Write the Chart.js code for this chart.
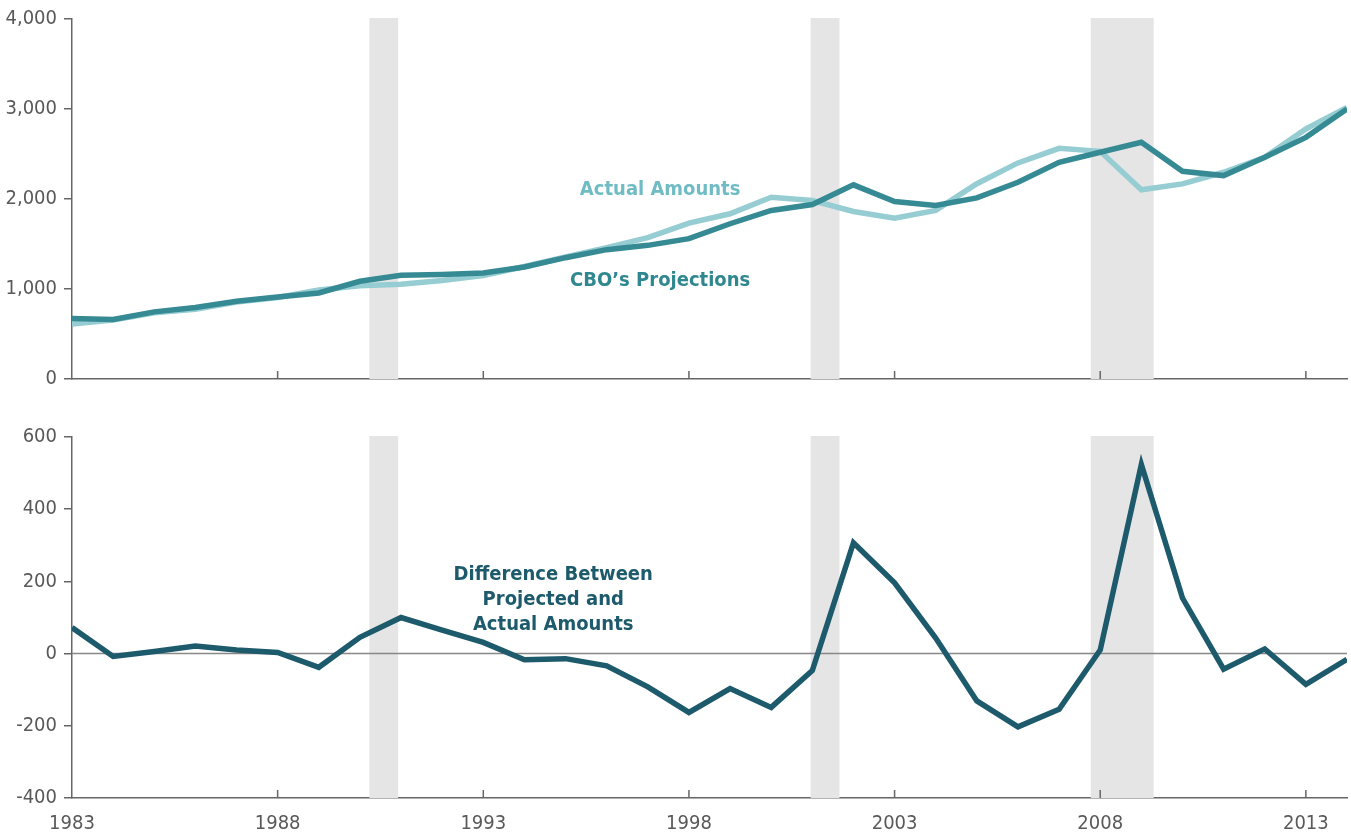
<!DOCTYPE html>
<html>
<head>
<meta charset="utf-8">
<script src="https://cdn.jsdelivr.net/npm/chart.js@4"></script>
<style>
  body { margin: 0; background: #fff; }
  canvas { display: block; }
</style>
</head>
<body>
<canvas id="levels" width="1351" height="400"></canvas>
<canvas id="diff" width="1351" height="437"></canvas>
<script>
const years = [];
for (let y = 1983; y <= 2014; y++) years.push(y);

const projected = [672, 661, 746, 794, 864, 912, 956, 1086, 1152, 1160, 1178, 1244, 1348, 1437, 1485, 1559,
  1725, 1873, 1939, 2157, 1972, 1928, 2013, 2186, 2408, 2519, 2630, 2308, 2260, 2463, 2685, 3000];
const actual = [610, 655, 735, 775, 855, 905, 990, 1035, 1053, 1095, 1150, 1250, 1355, 1460, 1570, 1732,
  1836, 2020, 1983, 1861, 1787, 1873, 2170, 2401, 2563, 2530, 2102, 2168, 2297, 2463, 2778, 3017];
const difference = [72, -8, 6, 21, 10, 3, -38, 45, 100, 65, 31, -17, -14, -34, -92, -163,
  -97, -149, -47, 307, 196, 43, -131, -203, -154, 10, 524, 154, -43, 13, -85, -16];

const recessions = [[1990.23, 1990.93], [2000.96, 2001.66], [2007.77, 2009.3]];
const xTicks = [1983, 1988, 1993, 1998, 2003, 2008, 2013];

const FONT = "'Liberation Sans Narrow', 'DejaVu Sans Condensed', 'Roboto Condensed', sans-serif";
const AXIS = '#666';
const TEXT = '#595959';

// grey recession bars + inner x tick marks
const decor = {
  id: 'decor',
  beforeDatasetsDraw(chart, args, opts) {
    const { ctx, chartArea, scales } = chart;
    ctx.save();
    ctx.fillStyle = '#e5e5e5';
    recessions.forEach(r => {
      const x1 = scales.x.getPixelForValue(r[0]);
      const x2 = scales.x.getPixelForValue(r[1]);
      ctx.fillRect(x1, chartArea.top - 1, x2 - x1, chartArea.bottom - chartArea.top + 1);
    });
    if (opts.zeroLine) {
      const y0 = scales.y.getPixelForValue(0);
      ctx.strokeStyle = '#888';
      ctx.lineWidth = 1.5;
      ctx.beginPath();
      ctx.moveTo(chartArea.left, y0);
      ctx.lineTo(chartArea.right, y0);
      ctx.stroke();
    }
    ctx.restore();
  },
  afterDraw(chart, args, opts) {
    const { ctx, chartArea, scales } = chart;
    ctx.save();
    ctx.strokeStyle = AXIS;
    ctx.lineWidth = 1.5;
    xTicks.slice(1).forEach(v => {
      const x = scales.x.getPixelForValue(v);
      ctx.beginPath();
      ctx.moveTo(x, chartArea.bottom);
      ctx.lineTo(x, chartArea.bottom - 8);
      ctx.stroke();
    });
    ctx.textAlign = 'center';
    ctx.textBaseline = 'middle';
    ctx.font = 'bold 20px ' + FONT;
    (opts.notes || []).forEach(n => {
      ctx.fillStyle = n.color;
      n.lines.forEach((t, i) => {
        ctx.fillText(t, scales.x.getPixelForValue(n.x), scales.y.getPixelForValue(n.y) + i * 25);
      });
    });
    ctx.restore();
  }
};

function yAxis(min, max, step, fmt) {
  return {
    min: min,
    max: max,
    ticks: {
      stepSize: step,
      padding: 7,
      color: TEXT,
      font: { family: FONT, size: 20 },
      callback: fmt
    },
    grid: { drawOnChartArea: false, drawTicks: true, tickLength: 8, color: AXIS, lineWidth: 1.5 },
    border: { display: true, color: AXIS, width: 1.5 },
    afterFit(scale) { scale.width = 72; }
  };
}

function xAxis(showLabels, height) {
  return {
    type: 'linear',
    min: 1983,
    max: 2014,
    afterBuildTicks(scale) { scale.ticks = xTicks.map(v => ({ value: v })); },
    ticks: {
      display: showLabels,
      padding: 14,
      maxRotation: 0,
      autoSkip: false,
      color: TEXT,
      font: { family: FONT, size: 20 },
      callback: v => String(v)
    },
    grid: { display: false, drawTicks: false },
    border: { display: true, color: AXIS, width: 1.5 },
    afterFit(scale) { scale.height = height; }
  };
}

function series(data, color) {
  return {
    data: years.map((y, i) => ({ x: y, y: data[i] })),
    borderColor: color,
    borderWidth: 5.5,
    pointRadius: 0,
    tension: 0,
    borderJoinStyle: 'miter',
    fill: false
  };
}

new Chart(document.getElementById('levels'), {
  type: 'line',
  data: {
    datasets: [
      series(projected, '#368a93'),
      series(actual, '#96cdd3')
    ]
  },
  options: {
    responsive: false,
    animation: false,
    layout: { padding: { top: 18, right: 4, left: 0, bottom: 0 } },
    plugins: {
      legend: { display: false },
      tooltip: { enabled: false },
      decor: {
        notes: [
          { x: 1997.3, y: 2100, color: '#6fbcc4', lines: ['Actual Amounts'] },
          { x: 1997.3, y: 1090, color: '#2f8790', lines: ['CBO\u2019s Projections'] }
        ]
      }
    },
    scales: {
      x: xAxis(false, 21),
      y: yAxis(0, 4000, 1000, v => v.toLocaleString('en-US'))
    }
  },
  plugins: [decor]
});

new Chart(document.getElementById('diff'), {
  type: 'line',
  data: {
    datasets: [series(difference, '#1c5a6c')]
  },
  options: {
    responsive: false,
    animation: false,
    layout: { padding: { top: 37, right: 4, left: 0, bottom: 0 } },
    plugins: {
      legend: { display: false },
      tooltip: { enabled: false },
      decor: {
        zeroLine: true,
        notes: [
          { x: 1994.7, y: 218, color: '#1c5a6c', lines: ['Difference Between', 'Projected and', 'Actual Amounts'] }
        ]
      }
    },
    scales: {
      x: xAxis(true, 39),
      y: yAxis(-400, 600, 200, v => String(v))
    }
  },
  plugins: [decor]
});
</script>
</body>
</html>
